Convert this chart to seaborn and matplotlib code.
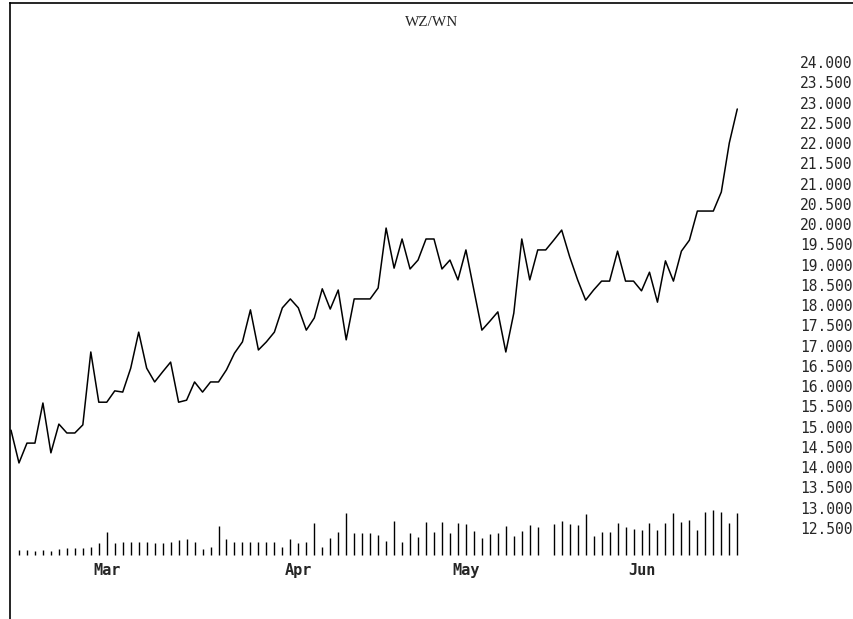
import numpy as np
import pandas as pd
import matplotlib
matplotlib.use("Agg")
import matplotlib.pyplot as plt
import seaborn as sns

# Chart data
title = "WZ/WN"

# daily closing ratio, one value per trading day
price = [14.91, 14.10, 14.59, 14.59, 15.58, 14.35, 15.06, 14.84, 14.84, 15.04,
         16.84, 15.60, 15.60, 15.88, 15.85, 16.44, 17.33, 16.44, 16.10, 16.35,
         16.59, 15.60, 15.65, 16.10, 15.85, 16.10, 16.10, 16.40, 16.81, 17.09,
         17.88, 16.89, 17.09, 17.33, 17.93, 18.15, 17.93, 17.38, 17.68, 18.40,
         17.90, 18.37, 17.14, 18.15, 18.15, 18.15, 18.42, 19.90, 18.91, 19.63,
         18.89, 19.11, 19.63, 19.63, 18.89, 19.11, 18.62, 19.36, 18.37, 17.38,
         17.60, 17.83, 16.84, 17.80, 19.63, 18.62, 19.36, 19.36, 19.60, 19.85,
         19.19, 18.62, 18.12, 18.37, 18.59, 18.59, 19.33, 18.59, 18.59, 18.35,
         18.81, 18.07, 19.09, 18.59, 19.33, 19.60, 20.32, 20.32, 20.32, 20.79,
         22.00, 22.84]

# daily volume (relative units), NaN where no bar is shown
volume = [np.nan, 5, 5, 4, 5, 4, 6, 7, 7, 7,
          8, 12, 23, 12, 13, 13, 13, 13, 12, 12,
          13, 15, 16, 13, 6, 8, 29, 16, 13, 13,
          13, 13, 13, 13, 8, 16, 12, 13, 32, 8,
          17, 23, 42, 22, 22, 22, 20, 14, 34, 13,
          22, 18, 33, 23, 33, 22, 32, 31, 24, 17,
          21, 22, 29, 19, 24, 30, 28, np.nan, 31, 34,
          31, 30, 41, 19, 23, 23, 32, 28, 26, 25,
          32, 25, 32, 42, 33, 35, 25, 43, 45, 43,
          32, 42]

month_names = ["Mar", "Apr", "May", "Jun"]
month_start = [12, 36, 57, 79]  # trading-day index of first day in month

price_ticks = [12.5, 13.0, 13.5, 14.0, 14.5, 15.0, 15.5, 16.0, 16.5, 17.0,
               17.5, 18.0, 18.5, 19.0, 19.5, 20.0, 20.5, 21.0, 21.5, 22.0,
               22.5, 23.0, 23.5, 24.0]

df = pd.DataFrame({"day": np.arange(len(price)), "price": price, "volume": volume})

sns.set_style("white")
plt.rcParams["font.family"] = ["DejaVu Sans Mono", "DejaVu Sans"]

fig = plt.figure(figsize=(8.54, 6.19), dpi=100)
ax = fig.add_axes([10 / 854, 0, 843 / 854, 616 / 619])

# volume bars on a hidden twin axis at the bottom
ax2 = ax.twinx()
vol = df.dropna(subset=["volume"])
ax2.vlines(vol["day"], 0, vol["volume"], color="black", linewidth=1.0)
ax2.set_ylim(-64, 552)
ax2.set_yticks([])
for s in ax2.spines.values():
    s.set_visible(False)

# price line
sns.lineplot(data=df, x="day", y="price", ax=ax, color="black", linewidth=1.1)
ax.set_xlim(-0.125, 105.5)
ax.set_ylim(10.247, 25.457)
ax.set_xlabel("")
ax.set_ylabel("")

# price labels inside the frame on the right
ax.set_yticks(price_ticks)
ax.set_yticklabels([f"{v:.3f}" for v in price_ticks])
ax.tick_params(axis="y", left=False, right=False, labelleft=False,
               labelright=True, pad=-38, labelsize=10.5, length=0)

# month labels under the volume bars
ax.set_xticks(month_start)
ax.set_xticklabels(month_names, fontweight="bold", fontsize=11)
ax.tick_params(axis="x", length=0, pad=-40)

for name in ["right", "bottom"]:
    ax.spines[name].set_visible(False)
for name in ["left", "top"]:
    ax.spines[name].set_color("black")
    ax.spines[name].set_linewidth(1.2)

fig.text(432 / 854, 1 - 22 / 619, title, ha="center", va="center",
         family="Liberation Serif", fontsize=11)

fig.savefig("out.png", dpi=100)
